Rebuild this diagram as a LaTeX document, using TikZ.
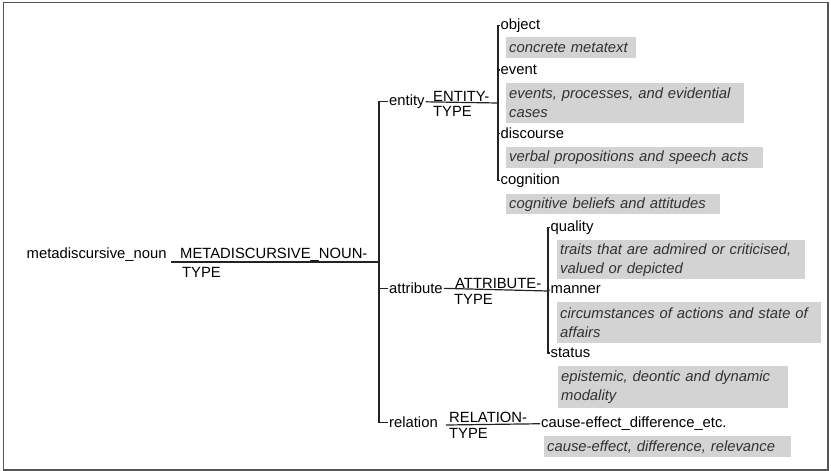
\documentclass[tikz,border=0pt]{standalone}
\usepackage{fontspec}
\setmainfont{Liberation Sans}
\usepackage{tikz}
\definecolor{notegray}{RGB}{211,211,211}
\definecolor{notetext}{RGB}{50,50,50}
\definecolor{linegray}{RGB}{35,35,35}
\definecolor{framegray}{RGB}{85,85,85}

\begin{document}
\begin{tikzpicture}[x=1pt,y=-1pt,
  font=\fontsize{14.8}{17}\selectfont,
  lbl/.style={inner xsep=1pt,inner ysep=0pt,anchor=mid west,text=black},
  typ/.style={inner sep=0pt,anchor=base west,text=black},
  note/.style={fill=notegray,text=notetext,anchor=north west,align=left,
    inner xsep=3pt,inner ysep=0pt,font=\fontsize{14.8}{19}\selectfont\itshape},
  edge/.style={draw=linegray,line width=1.2pt},
]
  \useasboundingbox (0,0) rectangle (831,471);
  \draw[framegray,line width=1.5pt] (3.5,2.5) rectangle (828,470);

  % root and its type
  \node[lbl,inner xsep=4pt,anchor=base west] (root) at (22.5,258) {metadiscursive\_noun};
  \node[typ] (lmeta) at (180,258) {METADISCURSIVE\_NOUN-};
  \node[typ] (tmeta) at (182,277) {TYPE};
  \coordinate (rootj) at (379,262);

  \node[lbl] (entity) at (388,103) {entity};
  \node[lbl] (attribute) at (388,291) {attribute};
  \node[lbl] (relation) at (388,425) {relation};

  \draw[edge] (root.east |- rootj) -- (rootj);
  \draw[edge] (entity.west) -- (entity.west -| rootj) -- (relation.west -| rootj) -- (relation.west);
  \draw[edge] (attribute.west) -- (attribute.west -| rootj);

  % entity
  \node[typ] (lent) at (433,101) {ENTITY-};
  \node[typ] (tent) at (433,116.5) {TYPE};
  \coordinate (entj) at (498,103);
  \foreach \name/\y in {object/27,event/72,discourse/136,cognition/182}
    \node[lbl] (\name) at (499.5,\y) {\name};
  \draw[edge] (entity.east) -- (entj);
  \draw[edge] (object.west) -- (object.west -| entj) -- (cognition.west -| entj) -- (cognition.west);
  \draw[edge] (event.west) -- (event.west -| entj);
  \draw[edge] (discourse.west) -- (discourse.west -| entj);

  \node[note,text width=124pt,minimum height=21pt] (nobject) at (506,37) {concrete metatext};
  \node[note,text width=232pt,minimum height=40pt] (nevent) at (506,83) {events, processes, and evidential\\cases};
  \node[note,text width=251pt,minimum height=21pt] (ndiscourse) at (506,147) {verbal propositions and speech acts};
  \node[note,text width=208pt,minimum height=20pt] (ncognition) at (506,194) {cognitive beliefs and attitudes};

  % attribute
  \node[typ] (lattr) at (455,288) {ATTRIBUTE-};
  \node[typ] (tattr) at (454,304) {TYPE};
  \coordinate (attrj) at (548,291);
  \foreach \name/\y in {quality/229,manner/291,status/355}
    \node[lbl] (\name) at (549.5,\y) {\name};
  \draw[edge] (attribute.east) -- (attrj);
  \draw[edge] (quality.west) -- (quality.west -| attrj) -- (status.west -| attrj) -- (status.west);
  \draw[edge] (manner.west) -- (attrj);

  \node[note,text width=242pt,minimum height=39pt] (nquality) at (557,240) {traits that are admired or criticised,\\valued or depicted};
  \node[note,text width=258pt,minimum height=41pt] (nmanner) at (557,302) {circumstances of actions and state of\\affairs};
  \node[note,text width=224pt,minimum height=42pt] (nstatus) at (558,366) {epistemic, deontic and dynamic\\modality};

  % relation
  \node[typ] (lrel) at (449,422) {RELATION-};
  \node[typ] (trel) at (449,438.5) {TYPE};
  \coordinate (relj) at (446,425);
  \node[lbl] (cause) at (540,425) {cause-effect\_difference\_etc.};
  \draw[edge] (relj) -- (cause.west);
  \node[note,text width=241pt,minimum height=21pt] (ncause) at (544,436) {cause-effect, difference, relevance};
\end{tikzpicture}
\end{document}
